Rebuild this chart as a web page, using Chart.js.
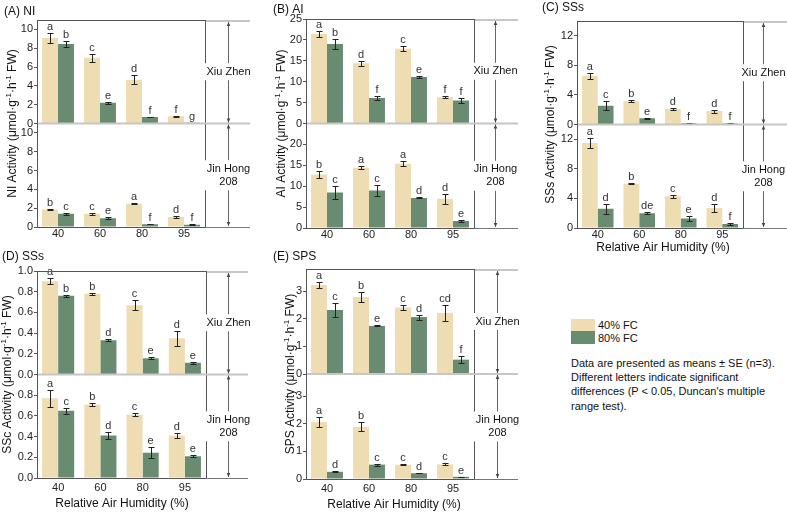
<!DOCTYPE html>
<html>
<head>
<meta charset="utf-8">
<title>Enzyme activity vs relative air humidity</title>
<script src="https://cdn.jsdelivr.net/npm/chart.js@4.4.1/dist/chart.umd.min.js"></script>
<style>
  html, body { margin: 0; padding: 0; background: #fff; }
  #wrap { position: relative; width: 787px; height: 512px; overflow: hidden;
          font-family: 'Liberation Sans', Arial, sans-serif; color: #111; }
  #wrap canvas { position: absolute; }
  .swatch { position: absolute; left: 571px; width: 24px; }
  .txt { position: absolute; font-size: 11px; line-height: 14px; white-space: nowrap; }
</style>
</head>
<body>
<div id="wrap">
  <canvas id="cA" width="262" height="250" style="left:0;top:0"></canvas>
  <canvas id="cB" width="262" height="250" style="left:262px;top:0"></canvas>
  <canvas id="cC" width="263" height="262" style="left:524px;top:0"></canvas>
  <canvas id="cD" width="262" height="262" style="left:0;top:250px"></canvas>
  <canvas id="cE" width="262" height="262" style="left:262px;top:250px"></canvas>

  <div class="swatch" style="top:319px;height:12px;background:rgb(238,221,178)"></div>
  <div class="swatch" style="top:331px;height:13px;background:rgb(105,140,112)"></div>
  <div class="txt" style="left:598px;top:318px">40% FC</div>
  <div class="txt" style="left:598px;top:331px">80% FC</div>
  <div class="txt" style="left:571px;top:356px;line-height:14.2px">
    Data are presented as means ± SE (n=3).<br>
    Different letters indicate significant<br>
    differences (P &lt; 0.05, Duncan's multiple<br>
    range test).
  </div>
</div>
<script>
const FONT = "'Liberation Sans', Arial, sans-serif";
Chart.defaults.font.family = FONT;

const humidity = ['40', '60', '80', '95'];

// (A) NI  - XZ = Xiu Zhen, JH = Jin Hong 208
const niXZ40 = [9.1, 7.0, 4.65, 0.78];
const niXZ40se = [0.55, 0.43, 0.5, 0.04];
const niXZ40sig = ['a', 'c', 'd', 'f'];
const niXZ80 = [8.45, 2.2, 0.68, 0.07];
const niXZ80se = [0.36, 0.1, 0.04, 0.02];
const niXZ80sig = ['b', 'e', 'f', 'g'];
const niJH40 = [1.85, 1.4, 2.48, 1.06];
const niJH40se = [0.04, 0.12, 0.06, 0.12];
const niJH40sig = ['b', 'c', 'a', 'd'];
const niJH80 = [1.42, 0.92, 0.3, 0.25];
const niJH80se = [0.1, 0.1, 0.03, 0.03];
const niJH80sig = ['c', 'e', 'f', 'f'];

// (B) AI
const aiXZ40 = [21.4, 14.4, 17.9, 6.3];
const aiXZ40se = [0.7, 0.6, 0.6, 0.25];
const aiXZ40sig = ['a', 'd', 'c', 'f'];
const aiXZ80 = [19.0, 6.1, 11.1, 5.5];
const aiXZ80se = [1.15, 0.4, 0.3, 0.7];
const aiXZ80sig = ['b', 'f', 'e', 'f'];
const aiJH40 = [12.8, 14.4, 15.4, 7.0];
const aiJH40se = [0.95, 0.4, 0.6, 1.2];
const aiJH40sig = ['b', 'a', 'a', 'd'];
const aiJH80 = [8.5, 9.0, 7.2, 1.65];
const aiJH80se = [1.6, 1.3, 0.1, 0.3];
const aiJH80sig = ['c', 'c', 'd', 'e'];

// (C) SSs
const ssXZ40 = [6.6, 3.15, 2.08, 1.81];
const ssXZ40se = [0.4, 0.15, 0.15, 0.2];
const ssXZ40sig = ['a', 'b', 'd', 'd'];
const ssXZ80 = [2.55, 0.86, 0.18, 0.14];
const ssXZ80se = [0.6, 0.08, 0.05, 0.04];
const ssXZ80sig = ['c', 'e', 'f', 'f'];
const ssJH40 = [11.5, 6.0, 4.3, 2.7];
const ssJH40se = [0.72, 0.05, 0.2, 0.6];
const ssJH40sig = ['a', 'b', 'c', 'd'];
const ssJH80 = [2.6, 1.98, 1.3, 0.54];
const ssJH80se = [0.65, 0.15, 0.3, 0.08];
const ssJH80sig = ['d', 'de', 'e', 'f'];

// (D) SSc
const scXZ40 = [0.9, 0.78, 0.67, 0.35];
const scXZ40se = [0.03, 0.012, 0.05, 0.07];
const scXZ40sig = ['a', 'b', 'c', 'd'];
const scXZ80 = [0.76, 0.33, 0.156, 0.114];
const scXZ80se = [0.01, 0.01, 0.01, 0.01];
const scXZ80sig = ['b', 'd', 'e', 'e'];
const scJH40 = [0.77, 0.71, 0.61, 0.41];
const scJH40se = [0.08, 0.015, 0.015, 0.02];
const scJH40sig = ['a', 'b', 'c', 'd'];
const scJH80 = [0.65, 0.41, 0.245, 0.21];
const scJH80se = [0.03, 0.03, 0.05, 0.01];
const scJH80sig = ['c', 'd', 'e', 'e'];

// (E) SPS
const spsXZ40 = [3.22, 2.79, 2.41, 2.21];
const spsXZ40se = [0.11, 0.18, 0.08, 0.3];
const spsXZ40sig = ['a', 'b', 'c', 'cd'];
const spsXZ80 = [2.32, 1.74, 2.06, 0.52];
const spsXZ80se = [0.26, 0.02, 0.09, 0.12];
const spsXZ80sig = ['c', 'e', 'd', 'f'];
const spsJH40 = [2.06, 1.89, 0.51, 0.53];
const spsJH40se = [0.19, 0.16, 0.02, 0.04];
const spsJH40sig = ['a', 'b', 'c', 'c'];
const spsJH80 = [0.26, 0.52, 0.21, 0.08];
const spsJH80se = [0.02, 0.04, 0.01, 0.01];
const spsJH80sig = ['d', 'c', 'd', 'e'];

const TAN = 'rgb(238,221,178)';
const GREEN = 'rgb(105,140,112)';

// box = canvas [left, top, w, h]; area = plot [left, top, right, bottom] in page px
const panels = [
  { id: 'cA', box: [0, 0, 262, 250], area: [37, 20, 205, 227], title: '(A) NI', titleAt: [4, 12],
    yName: 'NI', yTitleX: 13, arrowX: 228, endX: 250, max: 11, step: 2, dp: 0, xPad: 0,
    xz40: [niXZ40, niXZ40se, niXZ40sig], xz80: [niXZ80, niXZ80se, niXZ80sig],
    jh40: [niJH40, niJH40se, niJH40sig], jh80: [niJH80, niJH80se, niJH80sig] },
  { id: 'cB', box: [262, 0, 262, 250], area: [306, 19, 474, 228], title: '(B) AI', titleAt: [273, 10],
    yName: 'AI', yTitleX: 282, arrowX: 495, endX: 518, max: 25, step: 5, dp: 0, xPad: 0,
    xz40: [aiXZ40, aiXZ40se, aiXZ40sig], xz80: [aiXZ80, aiXZ80se, aiXZ80sig],
    jh40: [aiJH40, aiJH40se, aiJH40sig], jh80: [aiJH80, aiJH80se, aiJH80sig] },
  { id: 'cC', box: [524, 0, 263, 262], area: [577, 21, 743, 228], title: '(C) SSs', titleAt: [542, 8],
    yName: 'SSs', yTitleX: 551, arrowX: 763, endX: 787, max: 14, step: 4, dp: 0, xPad: 0,
    xTitleAt: [663, 248],
    xz40: [ssXZ40, ssXZ40se, ssXZ40sig], xz80: [ssXZ80, ssXZ80se, ssXZ80sig],
    jh40: [ssJH40, ssJH40se, ssJH40sig], jh80: [ssJH80, ssJH80se, ssJH80sig] },
  { id: 'cD', box: [0, 250, 262, 262], area: [37, 271, 206, 478], title: '(D) SSs', titleAt: [2, 257],
    yName: 'SSc', yTitleX: 8, arrowX: 228, endX: 248, max: 1.0, step: 0.2, dp: 1, xPad: 3,
    xTitleAt: [122, 504],
    xz40: [scXZ40, scXZ40se, scXZ40sig], xz80: [scXZ80, scXZ80se, scXZ80sig],
    jh40: [scJH40, scJH40se, scJH40sig], jh80: [scJH80, scJH80se, scJH80sig] },
  { id: 'cE', box: [262, 250, 262, 262], area: [306, 269, 474, 479], title: '(E) SPS', titleAt: [273, 257],
    yName: 'SPS', yTitleX: 291, arrowX: 497, endX: 518, max: 3.8, step: 1, dp: 0, xPad: 3,
    xTitleAt: [394, 505],
    xz40: [spsXZ40, spsXZ40se, spsXZ40sig], xz80: [spsXZ80, spsXZ80se, spsXZ80sig],
    jh40: [spsJH40, spsJH40se, spsJH40sig], jh80: [spsJH80, spsJH80se, spsJH80sig] }
];

function drawYTitle(ctx, name, cx, cy) {
  const parts = [[name + ' Activity (\u03bcmol\u00b7g', 0], ['-1', 1], ['\u00b7h', 0], ['-1', 1], [' FW)', 0]];
  const big = '12px ' + FONT, small = '8px ' + FONT;
  let total = 0;
  parts.forEach(p => { ctx.font = p[1] ? small : big; total += ctx.measureText(p[0]).width; });
  ctx.save();
  ctx.translate(cx, cy);
  ctx.rotate(-Math.PI / 2);
  ctx.fillStyle = '#111';
  ctx.textAlign = 'left';
  ctx.textBaseline = 'middle';
  let x = -total / 2;
  parts.forEach(p => {
    ctx.font = p[1] ? small : big;
    ctx.fillText(p[0], x, p[1] ? -4 : 0);
    x += ctx.measureText(p[0]).width;
  });
  ctx.restore();
}

function makeDecor(p) {
  const ox = p.box[0], oy = p.box[1];
  const seg = (ctx, x1, y1, x2, y2) => { ctx.beginPath(); ctx.moveTo(x1, y1); ctx.lineTo(x2, y2); ctx.stroke(); };

  return {
    id: 'decor' + p.id,
    afterDatasetsDraw(chart) {
      const ctx = chart.ctx;
      ctx.save();
      chart.data.datasets.forEach((ds, i) => {
        const meta = chart.getDatasetMeta(i);
        const ys = chart.scales[ds.yAxisID];
        meta.data.forEach((bar, j) => {
          const v = ds.data[j], e = ds.se[j];
          const x = Math.round(bar.x) + 0.5;
          const hi = Math.round(ys.getPixelForValue(v + e)) + 0.5;
          const lo = Math.round(ys.getPixelForValue(Math.max(0, v - e))) + 0.5;
          ctx.strokeStyle = '#222';
          ctx.lineWidth = 1;
          ctx.beginPath();
          ctx.moveTo(x, lo); ctx.lineTo(x, hi);
          ctx.moveTo(x - 3, hi); ctx.lineTo(x + 3, hi);
          ctx.moveTo(x - 3, lo); ctx.lineTo(x + 3, lo);
          ctx.stroke();
          ctx.fillStyle = '#333';
          ctx.font = '11px ' + FONT;
          ctx.textAlign = 'center';
          ctx.textBaseline = 'bottom';
          ctx.fillText(ds.sig[j], bar.x, hi - 1);
        });
      });
      ctx.restore();
    },
    afterDraw(chart) {
      const ctx = chart.ctx, a = chart.chartArea;
      const mid = chart.scales.yTop.bottom;
      const endX = p.endX - ox;
      const ax = Math.round(p.arrowX - ox) + 0.5;
      ctx.save();

      // plot frame: top and right
      ctx.strokeStyle = '#555';
      ctx.lineWidth = 1;
      seg(ctx, a.left, a.top + 0.5, a.right + 1, a.top + 0.5);
      seg(ctx, a.right + 0.5, a.top, a.right + 0.5, a.bottom);

      // separators
      ctx.strokeStyle = '#c6c6c6';
      ctx.lineWidth = 2;
      seg(ctx, a.left + 1, mid, endX, mid);
      seg(ctx, a.right + 1, a.top + 1, endX, a.top + 1);
      ctx.strokeStyle = '#777';
      ctx.lineWidth = 1;
      seg(ctx, a.right, a.bottom + 0.5, endX, a.bottom + 0.5);

      // double arrows
      ctx.strokeStyle = '#666';
      ctx.fillStyle = '#444';
      const head = (y, dir) => {
        ctx.beginPath();
        ctx.moveTo(ax, y);
        ctx.lineTo(ax - 1.8, y + dir * 4);
        ctx.lineTo(ax + 1.8, y + dir * 4);
        ctx.closePath();
        ctx.fill();
      };
      [[a.top + 2, mid - 1], [mid + 1, a.bottom - 1]].forEach(([y1, y2]) => {
        seg(ctx, ax, y1, ax, y2);
        head(y1, 1);
        head(y2, -1);
      });

      // cultivar labels
      ctx.font = '11px ' + FONT;
      ctx.textAlign = 'center';
      ctx.textBaseline = 'middle';
      const label = (lines, cy) => {
        const h = lines.length * 13;
        ctx.fillStyle = '#fff';
        ctx.fillRect(ax - 24, cy - h / 2 - 2, 48, h + 4);
        ctx.fillStyle = '#111';
        lines.forEach((t, k) => ctx.fillText(t, ax, cy - h / 2 + 6.5 + k * 13));
      };
      label(['Xiu Zhen'], (a.top + mid) / 2);
      label(['Jin Hong', '208'], (mid + a.bottom) / 2);

      // panel title
      ctx.font = '12px ' + FONT;
      ctx.textAlign = 'left';
      ctx.fillText(p.title, p.titleAt[0] - ox, p.titleAt[1] - oy);

      // axis titles
      drawYTitle(ctx, p.yName, p.yTitleX - ox, (a.top + a.bottom) / 2);
      if (p.xTitleAt) {
        ctx.font = '12px ' + FONT;
        ctx.fillStyle = '#111';
        ctx.textAlign = 'center';
        ctx.textBaseline = 'middle';
        ctx.fillText('Relative Air Humidity (%)', p.xTitleAt[0] - ox, p.xTitleAt[1] - oy);
      }
      ctx.restore();
    }
  };
}

function yScale(p, bottom) {
  const yW = p.area[0] - p.box[0];
  const max = p.max;
  const s = {
    type: 'linear', position: 'left', stack: 'cultivar', stackWeight: 1,
    min: 0, max: max, stacked: false,
    ticks: {
      stepSize: p.step, includeBounds: false, autoSkip: false, padding: 1, color: '#222',
      font: { size: 11 },
      callback: v => Number(v).toFixed(p.dp)
    },
    grid: { display: true, drawOnChartArea: false, drawTicks: true, tickLength: 3, color: '#555' },
    border: { display: true, color: '#555', width: 1 },
    afterFit: sc => { sc.width = yW; }
  };
  if (bottom) {
    s.afterBuildTicks = sc => { sc.ticks = sc.ticks.filter(t => t.value < max - 1e-9); };
  }
  return s;
}

panels.forEach(p => {
  const [bx, by, bw, bh] = p.box;
  const [l, t, r, b] = p.area;
  const xH = 14;
  const bar = (series, color, axis, stack) => ({
    data: series[0], se: series[1], sig: series[2],
    backgroundColor: color, borderWidth: 0,
    yAxisID: axis, stack: stack,
    categoryPercentage: 0.76, barPercentage: 1
  });

  new Chart(document.getElementById(p.id), {
    type: 'bar',
    data: {
      labels: humidity,
      datasets: [
        bar(p.xz40, TAN, 'yTop', 'fc40'),
        bar(p.xz80, GREEN, 'yTop', 'fc80'),
        bar(p.jh40, TAN, 'yBot', 'fc40'),
        bar(p.jh80, GREEN, 'yBot', 'fc80')
      ]
    },
    options: {
      responsive: false,
      animation: false,
      layout: { padding: { left: 0, top: t - by, right: bx + bw - r, bottom: bh - (b - by) - xH } },
      plugins: { legend: { display: false }, tooltip: { enabled: false } },
      scales: {
        x: {
          type: 'category', offset: true,
          grid: { display: false, drawTicks: false },
          border: { display: true, color: '#555', width: 1 },
          ticks: { padding: p.xPad, color: '#222', font: { size: 11 } },
          afterFit: sc => { sc.height = xH; }
        },
        // later-defined stacked left axis is laid out on top
        yBot: yScale(p, true),
        yTop: yScale(p, false)
      }
    },
    plugins: [makeDecor(p)]
  });
});
</script>
</body>
</html>
